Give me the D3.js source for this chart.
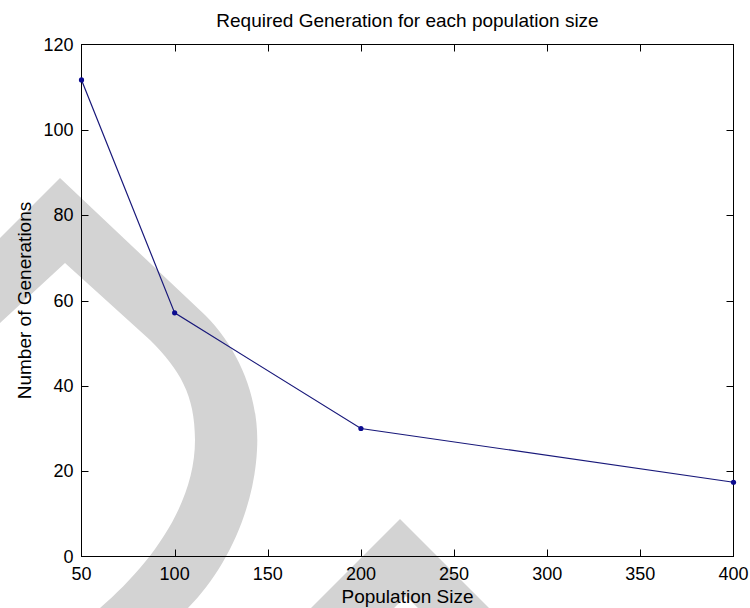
<!DOCTYPE html>
<html>
<head>
<meta charset="utf-8">
<script src="https://cdn.jsdelivr.net/npm/d3@7"></script>
<style>
  html, body { margin: 0; padding: 0; background: #fff; }
  svg { display: block; font-family: "Liberation Sans", Arial, sans-serif; }
</style>
</head>
<body>
<div id="chart"></div>
<script>
// ---------------------------
// DATA
// ---------------------------
const popSize = [50, 100, 200, 400];
const generations = [111.7, 57.1, 30.0, 17.4];
const xTicks = [50, 100, 150, 200, 250, 300, 350, 400];
const yTicks = [0, 20, 40, 60, 80, 100, 120];

const titleText = "Required Generation for each population size";
const xLabel = "Population Size";
const yLabel = "Number of Generations";

// ---------------------------
// LAYOUT
// ---------------------------
const width = 750, height = 608;
const plot = { left: 81.5, right: 733.5, top: 44.5, bottom: 556.5 };
const tickLen = 7;

const svg = d3.select("#chart").append("svg")
  .attr("width", width)
  .attr("height", height);

// grey watermark shapes sitting behind the figure
const watermark = [
  "M0,238 L60,178 L205,315 C240,350 260,400 257,450 C254,510 226,570 188,608 L100,608 C150,565 195,505 195,440 C195,395 180,370 150,340 L65,263 L0,323 Z",
  "M311,608 L400,519 L489,608 L418,608 L406,596 L394,608 Z"
];
svg.append("g")
  .selectAll("path")
  .data(watermark)
  .join("path")
  .attr("d", d => d)
  .attr("fill", "#d3d3d3");

// ---------------------------
// SCALES
// ---------------------------
const x = d3.scaleLinear().domain([50, 400]).range([plot.left, plot.right]);
const y = d3.scaleLinear().domain([0, 120]).range([plot.bottom, plot.top]);

// ---------------------------
// AXES (matlab style: box + inward ticks on all sides)
// ---------------------------
const axisG = svg.append("g").attr("stroke", "#000").attr("stroke-width", 1);

axisG.append("rect")
  .attr("x", plot.left).attr("y", plot.top)
  .attr("width", plot.right - plot.left)
  .attr("height", plot.bottom - plot.top)
  .attr("fill", "none");

const inner = xTicks.slice(1, -1);
axisG.selectAll(".xt-b").data(inner).join("line")
  .attr("x1", d => Math.round(x(d)) + 0.5).attr("x2", d => Math.round(x(d)) + 0.5)
  .attr("y1", plot.bottom).attr("y2", plot.bottom - tickLen);
axisG.selectAll(".xt-t").data(inner).join("line")
  .attr("class", "xt-t")
  .attr("x1", d => Math.round(x(d)) + 0.5).attr("x2", d => Math.round(x(d)) + 0.5)
  .attr("y1", plot.top).attr("y2", plot.top + tickLen);

const innerY = yTicks.slice(1, -1);
axisG.selectAll(".yt-l").data(innerY).join("line")
  .attr("class", "yt-l")
  .attr("y1", d => Math.round(y(d)) + 0.5).attr("y2", d => Math.round(y(d)) + 0.5)
  .attr("x1", plot.left).attr("x2", plot.left + tickLen);
axisG.selectAll(".yt-r").data(innerY).join("line")
  .attr("class", "yt-r")
  .attr("y1", d => Math.round(y(d)) + 0.5).attr("y2", d => Math.round(y(d)) + 0.5)
  .attr("x1", plot.right).attr("x2", plot.right - tickLen);

// tick labels
svg.append("g").selectAll("text").data(xTicks).join("text")
  .attr("x", d => x(d))
  .attr("y", plot.bottom + 23)
  .attr("text-anchor", "middle")
  .style("font-size", "18px")
  .attr("fill", "#000")
  .text(d => d);

svg.append("g").selectAll("text").data(yTicks).join("text")
  .attr("x", plot.left - 8)
  .attr("y", d => y(d))
  .attr("dy", "0.35em")
  .attr("text-anchor", "end")
  .style("font-size", "18px")
  .attr("fill", "#000")
  .text(d => d);

// ---------------------------
// TITLE + AXIS LABELS
// ---------------------------
svg.append("text")
  .attr("x", (plot.left + plot.right) / 2)
  .attr("y", 27)
  .attr("text-anchor", "middle")
  .style("font-size", "19px")
  .text(titleText);

svg.append("text")
  .attr("x", (plot.left + plot.right) / 2)
  .attr("y", 603)
  .attr("text-anchor", "middle")
  .style("font-size", "19px")
  .text(xLabel);

svg.append("text")
  .attr("transform", `translate(31, ${(plot.top + plot.bottom) / 2}) rotate(-90)`)
  .attr("text-anchor", "middle")
  .style("font-size", "19px")
  .text(yLabel);

// ---------------------------
// DATA LINE + MARKERS
// ---------------------------
const points = popSize.map((p, i) => [p, generations[i]]);

svg.append("path")
  .datum(points)
  .attr("fill", "none")
  .attr("stroke", "#18187a")
  .attr("stroke-width", 1.2)
  .attr("d", d3.line().x(d => x(d[0])).y(d => y(d[1])));

svg.append("g").selectAll("circle").data(points).join("circle")
  .attr("cx", d => x(d[0]))
  .attr("cy", d => y(d[1]))
  .attr("r", 2.6)
  .attr("fill", "#0c0c90");
</script>
</body>
</html>
